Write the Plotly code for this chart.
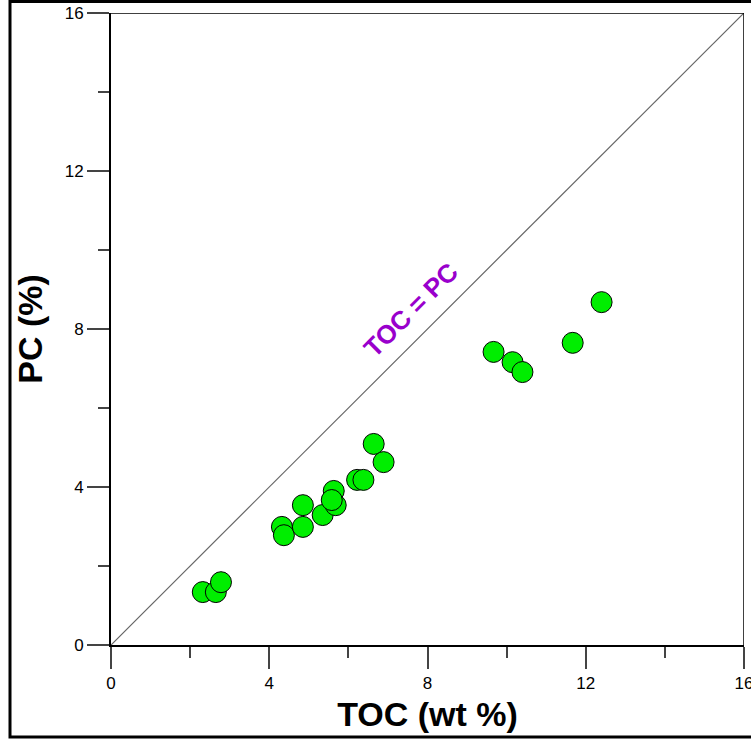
import plotly.graph_objects as go

toc = [2.32, 2.65, 2.78, 4.32, 4.37, 4.85, 4.85, 5.35, 5.63, 5.68, 5.58,
       6.22, 6.38, 6.64, 6.89, 9.67, 10.15, 10.40, 11.67, 12.40]
pc = [1.34, 1.34, 1.59, 2.99, 2.78, 3.54, 2.99, 3.29, 3.90, 3.54, 3.67,
      4.18, 4.18, 5.09, 4.63, 7.42, 7.16, 6.91, 7.65, 8.68]

line_x = [0, 16]
line_y = [0, 16]
tick_vals = [0, 4, 8, 12, 16]

W, H = 751, 742
L, R, T, B = 111, 7, 13, 97
pw, ph = W - L - R, H - T - B

def px_x(p):
    return (p - L) / pw

def px_y(p):
    return (H - B - p) / ph

fig = go.Figure()
fig.add_trace(go.Scatter(x=line_x, y=line_y, mode="lines",
                         line=dict(color="#666666", width=1.2), hoverinfo="skip"))
fig.add_trace(go.Scatter(x=toc, y=pc, mode="markers",
                         marker=dict(size=21, color="#00ee00",
                                     line=dict(color="black", width=1))))

FONT = "Arial, Liberation Sans"
axis_common = dict(
    range=[0, 16], tickvals=tick_vals, ticks="outside", ticklen=22,
    tickwidth=1.5, tickcolor="#444", showgrid=False, zeroline=False,
    showline=True, linecolor="black", linewidth=2,
    ticklabeloverflow="allow", automargin=False,
    tickfont=dict(family=FONT, size=17, color="black"),
    minor=dict(ticks="outside", ticklen=11, dtick=2, tickcolor="#444", tickwidth=1.5, showgrid=False),
)

fig.update_layout(
    width=W, height=H, showlegend=False,
    paper_bgcolor="white", plot_bgcolor="white",
    margin=dict(l=L, r=R, t=T, b=B),
    xaxis=dict(**axis_common,
               title=dict(text="TOC (wt %)", standoff=10,
                          font=dict(family=FONT, size=34, color="black", weight="bold"))),
    yaxis=dict(**axis_common,
               title=dict(text="PC (%)", standoff=12,
                          font=dict(family=FONT, size=34, color="black", weight="bold"))),
    annotations=[dict(x=7.58, y=8.48, xref="x", yref="y", text="<b>TOC = PC</b>",
                      showarrow=False, textangle=-45,
                      font=dict(family=FONT, size=26, color="#9900cc"))],
    shapes=[
        dict(type="line", xref="x", yref="y", x0=0, x1=16, y0=16, y1=16,
             line=dict(color="black", width=1.5)),
        dict(type="line", xref="x", yref="y", x0=16, x1=16, y0=0, y1=16,
             line=dict(color="black", width=1.5)),
        dict(type="rect", xref="paper", yref="paper",
             x0=px_x(10), x1=px_x(760), y0=px_y(737), y1=px_y(1.5),
             line=dict(color="black", width=3)),
    ],
)

fig.write_html("out.html", config={"displayModeBar": False},
               post_script="document.body.style.margin='0px';document.body.style.overflow='hidden';")
